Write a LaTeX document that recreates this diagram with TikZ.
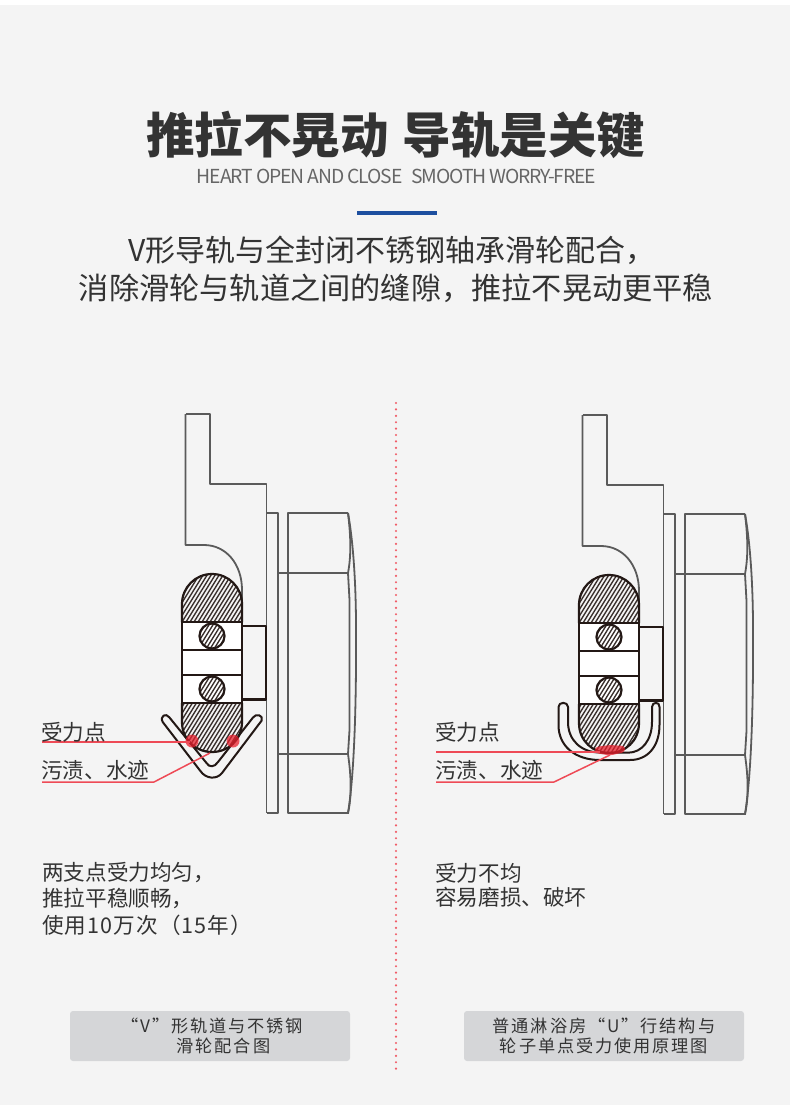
\documentclass[tikz,border=0pt]{standalone}
\usepackage{fontspec}
\setmainfont{Noto Sans CJK SC}
\newfontfamily\capfont[LetterSpace=11]{Noto Sans CJK SC}
\newfontfamily\subfont[LetterSpace=-6]{Noto Sans CJK SC}
\newfontfamily\wideb[LetterSpace=5]{Noto Sans CJK SC}
\definecolor{bgc}{HTML}{F4F4F4}
\definecolor{ink}{HTML}{333333}
\definecolor{rulec}{HTML}{1D4F9F}
\definecolor{capbg}{HTML}{D5D6D8}
\definecolor{wall}{HTML}{5A5A5A}
\definecolor{dark}{HTML}{231815}
\definecolor{leader}{HTML}{EE4A56}
\definecolor{hot}{HTML}{E8202E}
\tikzset{
  txt/.style={inner sep=0pt,text=ink},
  labelt/.style={txt,anchor=west,font=\fontsize{21.6}{25}\selectfont},
  captxt/.style={txt,font=\capfont\fontsize{17.2}{20}\selectfont},
  wallline/.style={draw=wall,line width=1.8pt,line join=round},
  rollerline/.style={draw=dark,line width=2.2pt,line join=round},
  hatchline/.style={draw=dark!90,line width=1.35pt},
  railline/.style={draw=dark,line width=2pt,fill=bgc,line join=round},
  leaderline/.style={draw=leader,line width=1.5pt,line join=round},
}
\newcommand{\hatcharea}[5]{% path, x0,y0,x1,y1
  \begin{scope}
    \clip #1;
    \foreach \hx in {-60,-56,...,100}{
      \draw[hatchline] ({#2+\hx},{#5}) -- ({#2+\hx+((#5)-(#3))*0.62},{#3});
    }
  \end{scope}
}
\newcommand{\carriage}{%
  % rail body
  \draw[wallline] (185.5,414) -- (210,414) -- (210,484) -- (266.5,484) -- (266.5,813);
  \draw[wallline] (185.5,414) -- (185.5,545) -- (204,545)
     .. controls (226,545) and (242,564) .. (242,590) -- (242,626);
  % plate and wheel housing
  \draw[wallline] (266.5,513) -- (278,513) -- (278,813) -- (266.5,813);
  \draw[wallline] (349,813) -- (288,813) -- (288,513) -- (348,513);
  \draw[wallline] (278,573) -- (348,573);
  \draw[wallline] (278,754) -- (348,754);
  \draw[wallline] (348,573) -- (349.5,600) -- (349.5,730) -- (348,754);
  \draw[wallline] (348,513) .. controls (350,530) and (352,552) .. (348,573);
  \draw[wallline] (348,754) .. controls (351,775) and (352,795) .. (348,813);
  \draw[wallline] (348,513) .. controls (352,535) and (355.5,570) .. (356,620)
     .. controls (356.5,690) and (355,770) .. (348,813);
}
\newcommand{\roller}{%
  \draw[rollerline] (243,626) -- (266,626) -- (266,699.5) -- (243,699.5);
  \hatcharea{(182,604) .. controls (182,587.4) and (195.4,574) .. (212,574)
     .. controls (228.6,574) and (242,587.4) .. (242,604) -- (242,622) -- (182,622) -- cycle}{182}{574}{242}{622}
  \hatcharea{(182,703) -- (182,722) .. controls (182,740) and (196,752) .. (212,752)
     .. controls (228,752) and (242,740) .. (242,722) -- (242,703) -- cycle}{182}{703}{242}{752}
  \draw[rollerline] (182,622) -- (182,604) .. controls (182,587.4) and (195.4,574) .. (212,574)
     .. controls (228.6,574) and (242,587.4) .. (242,604) -- (242,622);
  \draw[rollerline] (182,703) -- (182,722) .. controls (182,740) and (196,752) .. (212,752)
     .. controls (228,752) and (242,740) .. (242,722) -- (242,703);
  \draw[rollerline,fill=white] (182,622) rectangle (242,650);
  \draw[rollerline,fill=white] (182,650) rectangle (242,675);
  \draw[rollerline,fill=white] (182,675) rectangle (242,703);
  \foreach \by in {636,689}{
    \hatcharea{(212,\by) circle[radius=12.5]}{190}{\by-13}{234}{\by+13}
    \draw[rollerline] (212,\by) circle[radius=12.5];
  }
}
\begin{document}
\begin{tikzpicture}[x=1pt,y=-1pt]
\useasboundingbox (0,0) rectangle (790,1114);
\fill[white] (0,0) rectangle (790,1114);
\fill[bgc] (0,5) rectangle (790,1105);

% heading
\node[txt,anchor=west,font=\fontsize{48.5}{56}\selectfont\bfseries] (title) at (146,135)
  {推拉不晃动\hspace{14pt}导轨是关键};
\node[txt,text=ink!75,font=\subfont\fontsize{19.3}{22}\selectfont] (subtitle) at (396.5,176)
  {HEART OPEN AND CLOSE\hspace{9pt}SMOOTH WORRY-FREE};
\fill[rulec] (357,211) rectangle (436.5,215);
\node[txt,font=\fontsize{30}{35}\selectfont] (lineone) at (392,250) {V形导轨与全封闭不锈钢轴承滑轮配合，};
\node[txt,font=\fontsize{30.2}{35}\selectfont] (linetwo) at (396,288) {消除滑轮与轨道之间的缝隙，推拉不晃动更平稳};

% divider
\coordinate (divtop) at (396,403);
\coordinate (divbot) at (396,1074);
\draw[leader!90,line width=2.4pt,line cap=round,dash pattern=on 0pt off 6.4pt] (divtop) -- (divbot);

% left figure
\carriage
\draw[railline] (169.3,717.3) -- (206.5,763) .. controls (209,767.5) and (214.5,767.5) .. (218,762)
  -- (253,717.5) .. controls (256,713) and (263.5,715) .. (261.7,720.5)
  -- (222,773) .. controls (217,779.5) and (206,779.5) .. (200,770.5)
  -- (162.7,722) .. controls (159.5,716) and (166,712.5) .. (169.3,717.3) -- cycle;
\roller
\fill[hot,opacity=.75] (192,741) circle[radius=6.5];
\fill[hot,opacity=.75] (233,741) circle[radius=6.5];
\coordinate (lfa) at (42,742);
\coordinate (lfb) at (190,742);
\coordinate (lsa) at (42,782);
\coordinate (lsb) at (154,782);
\coordinate (lsc) at (210,753);
\draw[leaderline] (lfa) -- (lfb);
\draw[leaderline] (lsa) -- (lsb) -- (lsc);
\node[labelt] (lf) at (41,732) {受力点};
\node[labelt] (ls) at (41,770) {污渍、水迹};
\node[labelt] (lta) at (42,873) {两支点受力均匀，};
\node[labelt] (ltb) at (42,898) {推拉平稳顺畅，};
\node[labelt,font=\wideb\fontsize{21.6}{25}\selectfont] (ltc) at (42,925) {使用10万次（15年）};
\fill[capbg,rounded corners=3pt] (70,1011) rectangle (350,1061);
\node[captxt] (lca) at (212,1026) {“V”形轨道与不锈钢};
\node[captxt] (lcb) at (223.5,1046) {滑轮配合图};

% right figure
\begin{scope}[xshift=397pt,yshift=-1pt]
  \carriage
\end{scope}
\draw[railline] (568,707) -- (568,722) .. controls (568,740) and (581,752.5) .. (600,752.5)
  -- (628,752.7) .. controls (642,752.7) and (652,740) .. (652,722) -- (652,707)
  .. controls (652,701.5) and (660,701.5) .. (659.5,707) -- (659.5,725)
  .. controls (659.5,746) and (648,760) .. (630,760) -- (600,760)
  .. controls (575,760) and (558.5,746) .. (558.5,725) -- (558.5,707)
  .. controls (558.5,701.5) and (568,701.5) .. (568,707) -- cycle;
\begin{scope}[xshift=397pt,yshift=-1pt]
  \roller
\end{scope}
\fill[hot,opacity=.75,rounded corners=3pt] (595,747) -- (610,745) -- (625,746) -- (625,752) -- (610,755.5) -- (595,753) -- cycle;
\coordinate (rfa) at (436,752);
\coordinate (rfb) at (600,752);
\coordinate (rsa) at (436,782);
\coordinate (rsb) at (554,782);
\coordinate (rsc) at (610,755);
\draw[leaderline] (rfa) -- (rfb);
\draw[leaderline] (rsa) -- (rsb) -- (rsc);
\node[labelt] (rf) at (435,732) {受力点};
\node[labelt] (rs) at (435,770) {污渍、水迹};
\node[labelt] (rta) at (435,873) {受力不均};
\node[labelt] (rtb) at (435,897) {容易磨损、破坏};
\fill[capbg,rounded corners=3pt] (464,1011) rectangle (744,1061);
\node[captxt] (rca) at (604,1026) {普通淋浴房“U”行结构与};
\node[captxt] (rcb) at (604,1046) {轮子单点受力使用原理图};
\end{tikzpicture}
\end{document}
